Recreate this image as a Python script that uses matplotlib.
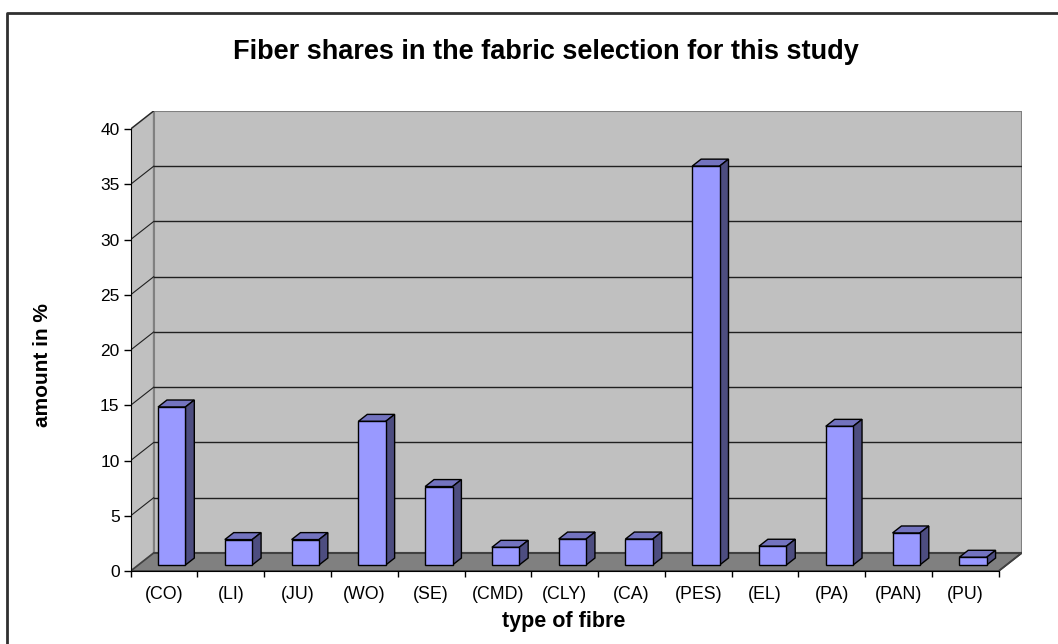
import matplotlib.pyplot as plt
import numpy as np
from matplotlib.patches import Polygon
from matplotlib.lines import Line2D

plt.rcParams['font.family'] = ['Liberation Sans', 'DejaVu Sans']

fibres = ['(CO)', '(LI)', '(JU)', '(WO)', '(SE)', '(CMD)', '(CLY)',
          '(CA)', '(PES)', '(EL)', '(PA)', '(PAN)', '(PU)']
shares = [14.3, 2.3, 2.3, 13.0, 7.1, 1.6, 2.35, 2.35, 36.1, 1.7, 12.55, 2.9, 0.7]
yticks = [0, 5, 10, 15, 20, 25, 30, 35, 40]

W, H = 1058, 644
n = len(fibres)
ymax = 40

# oblique depth offset of the 3d box, in data units
ddx = 0.344
ddy = 1.63
# bars sit between these fractions of the depth
d0, d1 = 0.333, 0.72
bw = 0.41

wall = '#C0C0C0'
floor = '#808080'
front_c = '#9999FF'
top_c = '#7373BF'
side_c = '#4D4D80'

fig = plt.figure(figsize=(W / 100, H / 100), dpi=100)
ax = fig.add_axes([130.7 / W, (H - 571) / H, (1021.7 - 130.7) / W, (571 - 111) / H])
ax.set_xlim(0, n + ddx)
ax.set_ylim(0, ymax + ddy)
for s in ['top', 'right']:
    ax.spines[s].set_visible(False)
ax.patch.set_visible(False)

# walls and floor
ax.add_patch(Polygon([(ddx, ddy), (n + ddx, ddy), (n + ddx, ymax + ddy), (ddx, ymax + ddy)],
                     closed=True, facecolor=wall, edgecolor=floor, lw=1.5, zorder=0))
ax.add_patch(Polygon([(0, 0), (ddx, ddy), (ddx, ymax + ddy), (0, ymax)],
                     closed=True, facecolor=wall, edgecolor=floor, lw=1.2, zorder=0))
ax.add_patch(Polygon([(0, 0), (n, 0), (n + ddx, ddy), (ddx, ddy)],
                     closed=True, facecolor=floor, edgecolor='#404040', lw=1.2, zorder=0.5))

# gridlines on the back wall and the side wall
for v in yticks[1:-1]:
    ax.plot([ddx, n + ddx], [v + ddy, v + ddy], color='#202020', lw=1.0, zorder=0.3)
for v in yticks[1:]:
    ax.plot([0, ddx], [v, v + ddy], color='#202020', lw=0.8, zorder=0.3)
ax.plot([ddx, n + ddx], [ddy, ddy], color='#404040', lw=1.5, zorder=0.6)

# bars: front face, top face and right side face
x = np.arange(n) + 0.5
fx = x + d0 * ddx
base = d0 * ddy
ax.bar(fx, shares, width=bw, bottom=base, color=front_c, edgecolor='black', lw=1.0, zorder=3)
bx = (d1 - d0) * ddx
by = (d1 - d0) * ddy
for xi, v in zip(fx, shares):
    xl, xr, yt = xi - bw / 2, xi + bw / 2, v + base
    ax.add_patch(Polygon([(xl, yt), (xr, yt), (xr + bx, yt + by), (xl + bx, yt + by)],
                         closed=True, facecolor=top_c, edgecolor='black', lw=1.0, zorder=2))
    ax.add_patch(Polygon([(xr, base), (xr + bx, base + by), (xr + bx, yt + by), (xr, yt)],
                         closed=True, facecolor=side_c, edgecolor='black', lw=1.0, zorder=2))

# axes
ax.spines['left'].set_bounds(0, ymax)
ax.spines['bottom'].set_bounds(0, n)
ax.spines['left'].set_zorder(4)
ax.spines['bottom'].set_zorder(4)
ax.plot([n, n + ddx], [0, ddy], color='#404040', lw=1.2, zorder=0.6)
ax.set_yticks(yticks)
ax.tick_params(axis='y', length=5, width=1, pad=3, labelsize=12.5)
ax.set_xticks(x)
ax.set_xticklabels(fibres)
ax.set_xticks(np.arange(n + 1), minor=True)
ax.tick_params(axis='x', which='major', length=0, pad=10.5, labelsize=12.8)
ax.tick_params(axis='x', which='minor', length=4.5, width=1)

fig.text(546 / W, 1 - 52 / H, 'Fiber shares in the fabric selection for this study',
         ha='center', va='center', fontsize=19.5, fontweight='bold')
fig.text(42 / W, 1 - 365 / H, 'amount in %', ha='center', va='center',
         rotation=90, fontsize=15, fontweight='bold')
fig.text(564 / W, 1 - 622 / H, 'type of fibre', ha='center', va='center',
         fontsize=15.5, fontweight='bold')

# chart area frame
fig.add_artist(Line2D([6.5 / W, 6.5 / W, 1.02], [-0.02, 1 - 12.5 / H, 1 - 12.5 / H],
                      transform=fig.transFigure, color='#303030', lw=2))

fig.savefig('out.png', dpi=100)
